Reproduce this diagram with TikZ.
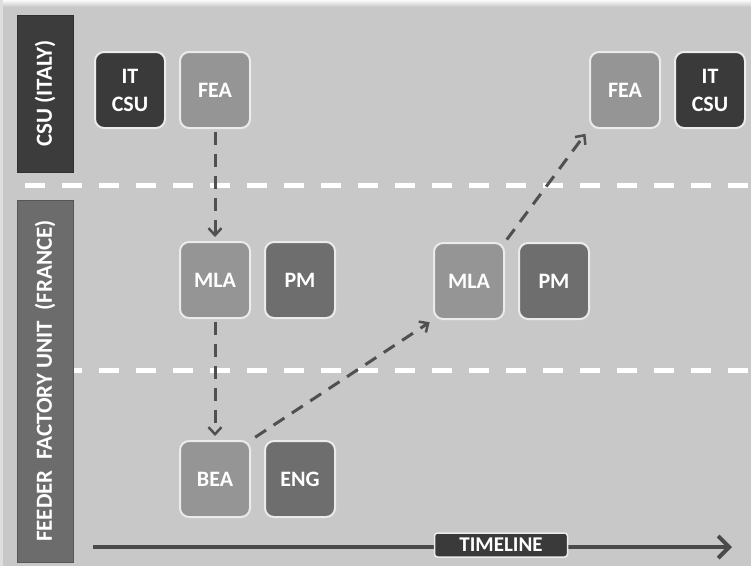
\documentclass[tikz,border=0pt]{standalone}
\usepackage{fontspec}
\setmainfont{Carlito}
\usetikzlibrary{arrows.meta}

\definecolor{canvas}{HTML}{C8C8C8}
\definecolor{laneDark}{HTML}{3C3C3C}
\definecolor{laneMid}{HTML}{6C6C6C}
\definecolor{boxLight}{HTML}{959595}
\definecolor{boxMid}{HTML}{6E6E6E}
\definecolor{boxDark}{HTML}{3A3A3A}
\definecolor{rim}{HTML}{EBEBEB}
\definecolor{flow}{HTML}{505050}
\definecolor{axis}{HTML}{4A4A4A}

\tikzset{
  unitbox/.style={rounded corners=9pt, draw=rim, line width=2pt,
    minimum width=70pt, minimum height=76pt, text=white, align=center,
    inner sep=0pt, font=\fontsize{22}{28}\selectfont\bfseries},
  lightbox/.style={unitbox, fill=boxLight},
  midbox/.style={unitbox, fill=boxMid},
  darkbox/.style={unitbox, fill=boxDark},
  lane/.style={line width=1pt, text=white, inner sep=0pt,
    minimum width=56pt, font=\fontsize{23}{25}\selectfont\bfseries},
  divider/.style={draw=white, line width=5pt, dash pattern=on 20pt off 17pt},
  flowarrow/.style={draw=flow, line width=3pt, dash pattern=on 13pt off 9pt,
    -{Straight Barb[length=7pt,width=13pt,line width=2.5pt]}},
  axisarrow/.style={draw=axis, line width=4pt,
    -{Straight Barb[length=11pt,width=22pt,line width=4pt]}},
  tag/.style={fill=boxDark, draw=rim, line width=1.5pt, rounded corners=3pt,
    text=white, minimum width=133pt, minimum height=24pt, inner sep=0pt,
    font=\fontsize{21}{22}\selectfont\bfseries}
}

\begin{document}
\begin{tikzpicture}[x=1pt,y=-1pt]
  % canvas with a soft light edge along the top and left
  \fill[canvas] (0,0) rectangle (751,566);
  \shade[top color=white!92!canvas, bottom color=canvas] (0,0) rectangle (751,7);
  \fill[white!40!canvas] (0,0) rectangle (3,566);
  \useasboundingbox (0,0) rectangle (751,566);

  % lane separators
  \coordinate (d1a) at (25,185);  \coordinate (d1b) at (751,185);
  \coordinate (d2a) at (25,370);  \coordinate (d2b) at (751,370);
  \draw[divider] (d1a) -- (d1b);
  \draw[divider] (d2a) -- (d2b);

  % swim-lane headers
  \node[lane, fill=laneDark, draw=laneDark!80!black, minimum height=157pt] (csu) at (45,93.5)
    {\rotatebox{90}{CSU (ITALY)}};
  \node[lane, fill=laneMid, draw=laneMid!80!black, minimum height=362pt] (feeder) at (45,381)
    {\rotatebox{90}{FEEDER\ \ FACTORY UNIT\ \ (FRANCE)}};

  % units
  \node[darkbox]  (itcsuL) at (130,90)  {IT\\CSU};
  \node[lightbox] (feaL)   at (215,90)  {FEA};
  \node[lightbox] (mlaL)   at (215,280) {MLA};
  \node[midbox]   (pmL)    at (300,280) {PM};
  \node[lightbox] (beaL)   at (215,479) {BEA};
  \node[midbox]   (engL)   at (300,479) {ENG};
  \node[lightbox] (mlaR)   at (469,281) {MLA};
  \node[midbox]   (pmR)    at (554,281) {PM};
  \node[lightbox] (feaR)   at (625,90)  {FEA};
  \node[darkbox]  (itcsuR) at (710,90)  {IT\\CSU};

  % flow between units
  \draw[flowarrow, shorten <=3pt, shorten >=4pt] (feaL.south) -- (mlaL.north);
  \draw[flowarrow, shorten <=3pt, shorten >=4pt] (mlaL.south) -- (beaL.north);
  \draw[flowarrow, shorten <=5pt, shorten >=4pt] (beaL.north east) -- (mlaR.south west);
  \draw[flowarrow, shorten <=3pt, shorten >=6pt] (mlaR.north east) -- (feaR.south west);

  % timeline
  \coordinate (t0) at (93,547);
  \coordinate (t1) at (732,547);
  \draw[axisarrow] (t0) -- (t1);
  \node[tag] (timeline) at (501,545) {TIMELINE};
\end{tikzpicture}
\end{document}
